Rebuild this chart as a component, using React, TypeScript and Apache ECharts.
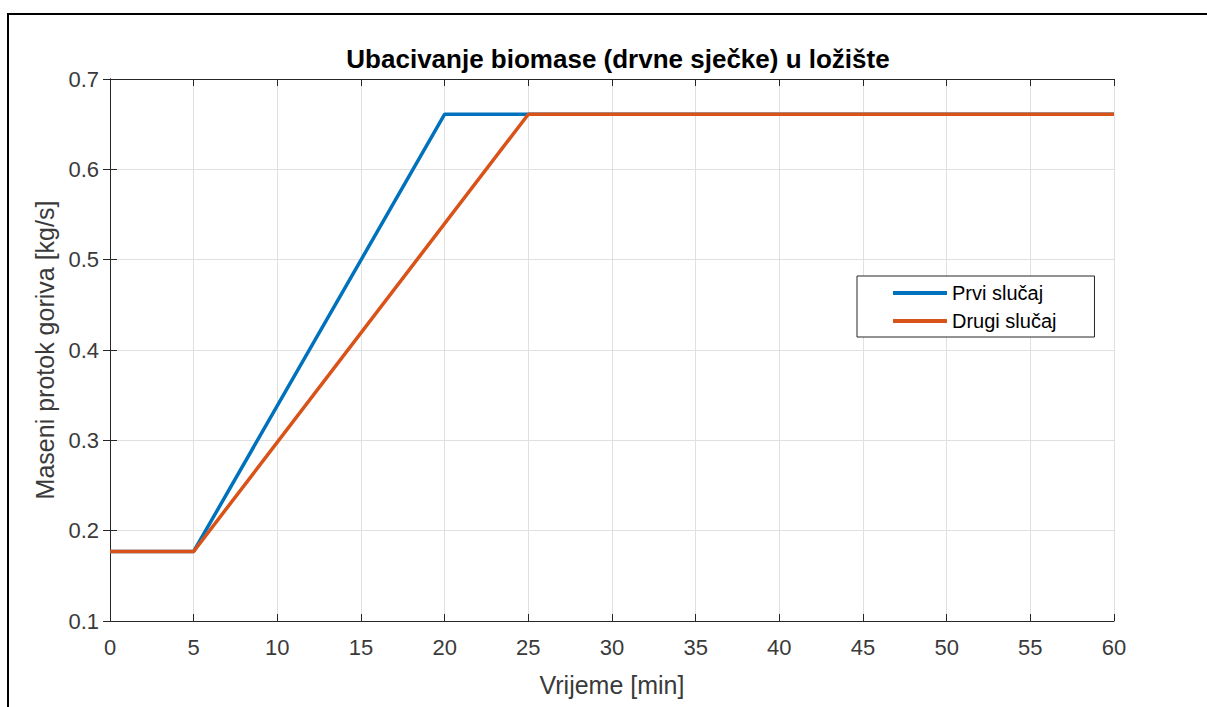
import React, { useEffect, useRef } from "react";
import * as echarts from "echarts";

const titleText = "Ubacivanje biomase (drvne sječke) u ložište";
const xLabel = "Vrijeme [min]";
const yLabel = "Maseni protok goriva [kg/s]";
const seriesNames = ["Prvi slučaj", "Drugi slučaj"];
const prviX = [0, 5, 20, 25, 60];
const prviY = [0.177, 0.177, 0.661, 0.661, 0.661];
const drugiX = [0, 5, 25, 60];
const drugiY = [0.177, 0.177, 0.661, 0.661];

const FONT = "'Liberation Sans', Arial, Helvetica, sans-serif";
const AX = "#262626";
const TXT = "#3a3a3a";

export default function App() {
  const ref = useRef<HTMLDivElement>(null);
  useEffect(() => {
    document.body.style.margin = "0";
    const chart = echarts.init(ref.current!, null, { renderer: "svg" });
    const tickAxisCommon = {
      axisLine: { show: true, lineStyle: { color: AX, width: 1 } },
      axisTick: { show: true, inside: true, length: 7, lineStyle: { color: AX, width: 1 } },
    };
    chart.setOption({
      animation: false,
      backgroundColor: "#ffffff",
      title: {
        text: titleText,
        left: 613,
        textAlign: "center",
        top: 41,
        textStyle: { fontFamily: FONT, fontSize: 26, fontWeight: "bold", color: "#000" },
      },
      legend: {
        orient: "vertical",
        left: 857,
        top: 276,
        data: seriesNames,
        icon: "rect",
        itemWidth: 54,
        itemHeight: 4,
        itemGap: 4,
        padding: [5, 38, 4, 36],
        borderColor: AX,
        borderWidth: 1,
        backgroundColor: "#fff",
        textStyle: { fontFamily: FONT, fontSize: 20, color: "#000", lineHeight: 24 },
      },
      grid: { left: 110, right: 93, top: 79, bottom: 86, containLabel: false },
      xAxis: [
        {
          type: "value",
          min: 0,
          max: 60,
          interval: 5,
          name: xLabel,
          nameLocation: "middle",
          nameGap: 51,
          nameTextStyle: { fontFamily: FONT, fontSize: 25, color: TXT },
          ...tickAxisCommon,
          axisLabel: { fontFamily: FONT, fontSize: 22, color: TXT, margin: 15 },
          splitLine: { show: true, lineStyle: { color: "#e0e0e0", width: 1 } },
        },
        {
          type: "value",
          position: "top",
          min: 0,
          max: 60,
          interval: 5,
          ...tickAxisCommon,
          axisLabel: { show: false },
          splitLine: { show: false },
        },
      ],
      yAxis: [
        {
          type: "value",
          min: 0.1,
          max: 0.7,
          interval: 0.1,
          name: yLabel,
          nameLocation: "middle",
          nameGap: 50,
          nameTextStyle: { fontFamily: FONT, fontSize: 25, color: TXT },
          ...tickAxisCommon,
          axisLabel: {
            fontFamily: FONT,
            fontSize: 22,
            color: TXT,
            margin: 11,
            formatter: (v: number) => v.toFixed(1),
          },
          splitLine: { show: true, lineStyle: { color: "#e0e0e0", width: 1 } },
        },
        {
          type: "value",
          position: "right",
          min: 0.1,
          max: 0.7,
          interval: 0.1,
          ...tickAxisCommon,
          axisLabel: { show: false },
          splitLine: { show: false },
        },
      ],
      series: [
        {
          name: seriesNames[0],
          type: "line",
          data: prviX.map((x, i) => [x, prviY[i]]),
          showSymbol: false,
          symbol: "none",
          color: "#0072BD",
          lineStyle: { width: 3.5, color: "#0072BD" },
        },
        {
          name: seriesNames[1],
          type: "line",
          data: drugiX.map((x, i) => [x, drugiY[i]]),
          showSymbol: false,
          symbol: "none",
          color: "#D95319",
          lineStyle: { width: 3.5, color: "#D95319" },
        },
      ],
      graphic: [
        { type: "line", shape: { x1: 7, y1: 14, x2: 1207, y2: 14 }, style: { stroke: "#000", lineWidth: 2 } },
        { type: "line", shape: { x1: 8, y1: 13, x2: 8, y2: 707 }, style: { stroke: "#000", lineWidth: 2 } },
      ],
    });
    return () => chart.dispose();
  }, []);
  return <div ref={ref} style={{ width: 1207, height: 707 }} />;
}
